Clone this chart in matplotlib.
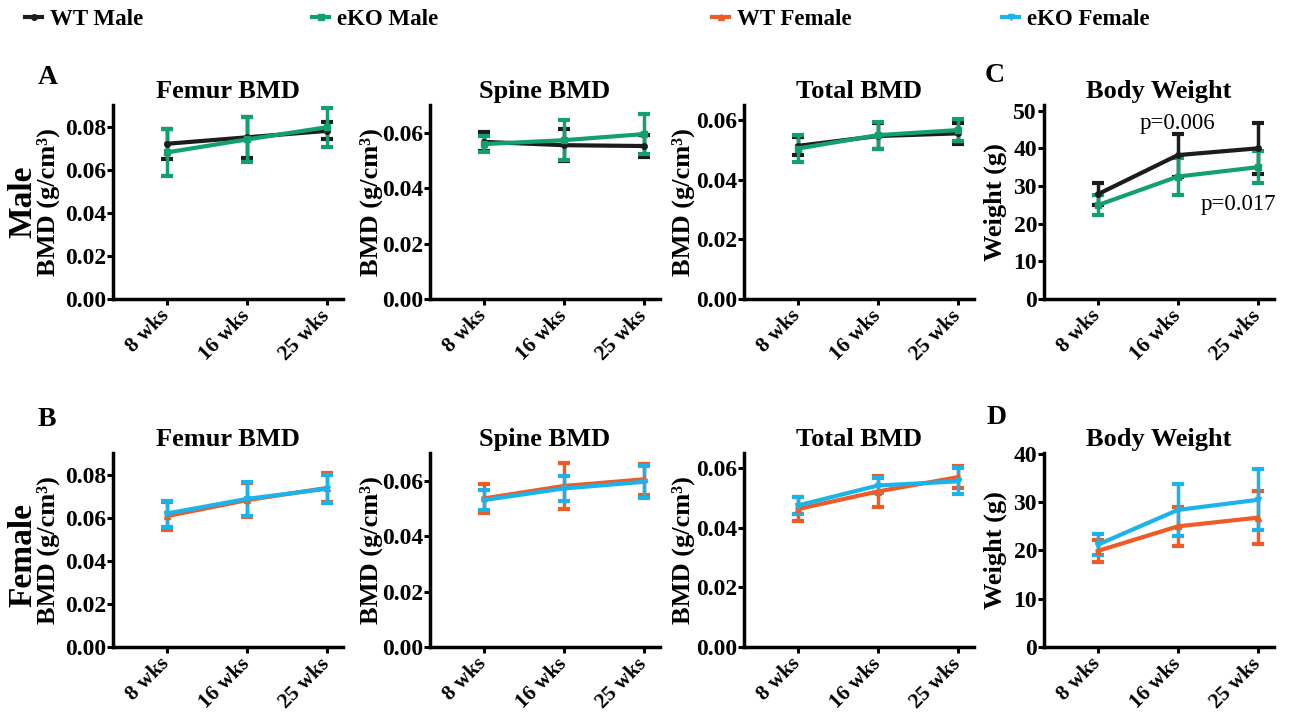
import matplotlib
matplotlib.use("Agg")
import matplotlib.pyplot as plt
from matplotlib.ticker import FormatStrFormatter
from matplotlib.transforms import ScaledTranslation

plt.rcParams['font.family'] = ['Liberation Serif', 'DejaVu Serif']
plt.rcParams['font.weight'] = 'bold'

weeks = ["8 wks", "16 wks", "25 wks"]

# male
wt_m_femur = [0.072, 0.075, 0.078]
wt_m_femur_err = [0.007, 0.0095, 0.004]
ko_m_femur = [0.068, 0.074, 0.0797]
ko_m_femur_err = [0.011, 0.0104, 0.009]
wt_m_spine = [0.0567, 0.0555, 0.0552]
wt_m_spine_err = [0.0034, 0.0057, 0.004]
ko_m_spine = [0.0559, 0.0573, 0.0595]
ko_m_spine_err = [0.003, 0.0073, 0.0072]
wt_m_total = [0.0513, 0.0546, 0.0555]
wt_m_total_err = [0.003, 0.0044, 0.0034]
ko_m_total = [0.0504, 0.0549, 0.0566]
ko_m_total_err = [0.0045, 0.0045, 0.0036]
wt_m_weight = [27.8, 38.2, 40.0]
wt_m_weight_err = [2.9, 5.7, 6.7]
ko_m_weight = [24.9, 32.5, 35.0]
ko_m_weight_err = [2.6, 4.9, 4.2]

# female
wt_f_femur = [0.0607, 0.0681, 0.0738]
wt_f_femur_err = [0.0065, 0.008, 0.0067]
ko_f_femur = [0.0619, 0.0687, 0.0734]
ko_f_femur_err = [0.006, 0.008, 0.0065]
wt_f_spine = [0.0536, 0.0581, 0.0605]
wt_f_spine_err = [0.0051, 0.0083, 0.0055]
ko_f_spine = [0.053, 0.0572, 0.0596]
ko_f_spine_err = [0.0037, 0.0044, 0.0058]
wt_f_total = [0.0462, 0.0521, 0.0569]
wt_f_total_err = [0.004, 0.0052, 0.0036]
ko_f_total = [0.0474, 0.0541, 0.0555]
ko_f_total_err = [0.003, 0.0024, 0.0044]
wt_f_weight = [19.9, 25.0, 26.8]
wt_f_weight_err = [2.2, 4.0, 5.5]
ko_f_weight = [21.2, 28.4, 30.5]
ko_f_weight_err = [2.2, 5.3, 6.3]

c_wt_m = "#1c1c1c"
c_ko_m = "#12a06e"
c_wt_f = "#ef5b25"
c_ko_f = "#1ab4ea"

W, H = 1292, 715
fig = plt.figure(figsize=(W / 100, H / 100), dpi=100)

col_left = [113, 430, 744, 1044]
ax_w = 230
row_top = [105, 453]
ax_h = 194


def make_ax(col, row):
    l = col_left[col] / W
    b = 1 - (row_top[row] + ax_h) / H
    return fig.add_axes([l, b, ax_w / W, ax_h / H])


def series(ax, vals, errs, color, marker, label):
    x = list(range(len(weeks)))
    cont = ax.errorbar(x, vals, yerr=errs, color=color, lw=3, marker=marker, ms=4,
                       capsize=4, capthick=3, elinewidth=2.5, label=label, clip_on=False)
    return cont


def style(ax, title, ylim, ticks, fmt, ylabel, lab_x):
    ax.set_xlim(-0.67, 2.2)
    ax.set_ylim(*ylim)
    ax.set_yticks(ticks)
    ax.yaxis.set_major_formatter(FormatStrFormatter(fmt))
    ax.set_xticks(range(len(weeks)))
    ax.set_xticklabels(weeks, rotation=45, ha='right', va='center', rotation_mode='anchor')
    shift = ScaledTranslation(0.06, 0, fig.dpi_scale_trans)
    for lab in ax.get_xticklabels():
        lab.set_transform(lab.get_transform() + shift)
    for s in ['top', 'right']:
        ax.spines[s].set_visible(False)
    for s in ['left', 'bottom']:
        ax.spines[s].set_linewidth(2.5)
    ax.tick_params(axis='both', length=4, width=2.2, labelsize=17, pad=1)
    ax.tick_params(axis='x', labelsize=15.5, pad=6)
    ax.set_title(title, fontsize=19, fontweight='bold', pad=5)
    ax.set_ylabel(ylabel, fontsize=19, fontweight='bold')
    ax.yaxis.set_label_coords(lab_x, 0.5)


bmd_label = "BMD (g/cm³)"

# male row
ax = make_ax(0, 0)
h1 = series(ax, wt_m_femur, wt_m_femur_err, c_wt_m, 'o', "WT Male")
h2 = series(ax, ko_m_femur, ko_m_femur_err, c_ko_m, 's', "eKO Male")
style(ax, "Femur BMD", (0, 0.09), [0, 0.02, 0.04, 0.06, 0.08], '%.2f', bmd_label, -0.23)

ax = make_ax(1, 0)
series(ax, wt_m_spine, wt_m_spine_err, c_wt_m, 'o', "WT Male")
series(ax, ko_m_spine, ko_m_spine_err, c_ko_m, 's', "eKO Male")
style(ax, "Spine BMD", (0, 0.07), [0, 0.02, 0.04, 0.06], '%.2f', bmd_label, -0.204)

ax = make_ax(2, 0)
series(ax, wt_m_total, wt_m_total_err, c_wt_m, 'o', "WT Male")
series(ax, ko_m_total, ko_m_total_err, c_ko_m, 's', "eKO Male")
style(ax, "Total BMD", (0, 0.065), [0, 0.02, 0.04, 0.06], '%.2f', bmd_label, -0.213)

ax = make_ax(3, 0)
series(ax, wt_m_weight, wt_m_weight_err, c_wt_m, 'o', "WT Male")
series(ax, ko_m_weight, ko_m_weight_err, c_ko_m, 's', "eKO Male")
style(ax, "Body Weight", (0, 51.5), [0, 10, 20, 30, 40, 50], '%d', "Weight (g)", -0.16)
ax.text(1, 46.5, "p=0.006", fontsize=16.5, fontweight='normal', ha='center', va='center')
ax.text(1.75, 25.2, "p=0.017", fontsize=16.5, fontweight='normal', ha='center', va='center')

# female row
ax = make_ax(0, 1)
h3 = series(ax, wt_f_femur, wt_f_femur_err, c_wt_f, '^', "WT Female")
h4 = series(ax, ko_f_femur, ko_f_femur_err, c_ko_f, 'v', "eKO Female")
style(ax, "Femur BMD", (0, 0.09), [0, 0.02, 0.04, 0.06, 0.08], '%.2f', bmd_label, -0.23)

ax = make_ax(1, 1)
series(ax, wt_f_spine, wt_f_spine_err, c_wt_f, '^', "WT Female")
series(ax, ko_f_spine, ko_f_spine_err, c_ko_f, 'v', "eKO Female")
style(ax, "Spine BMD", (0, 0.07), [0, 0.02, 0.04, 0.06], '%.2f', bmd_label, -0.204)

ax = make_ax(2, 1)
series(ax, wt_f_total, wt_f_total_err, c_wt_f, '^', "WT Female")
series(ax, ko_f_total, ko_f_total_err, c_ko_f, 'v', "eKO Female")
style(ax, "Total BMD", (0, 0.065), [0, 0.02, 0.04, 0.06], '%.2f', bmd_label, -0.213)

ax = make_ax(3, 1)
series(ax, wt_f_weight, wt_f_weight_err, c_wt_f, '^', "WT Female")
series(ax, ko_f_weight, ko_f_weight_err, c_ko_f, 'v', "eKO Female")
style(ax, "Body Weight", (0, 40.2), [0, 10, 20, 30, 40], '%d', "Weight (g)", -0.16)

# row labels
fig.text(23 / W, 1 - 202 / H, "Male", rotation=90, fontsize=24, fontweight='bold', ha='center', va='center')
fig.text(23 / W, 1 - 555 / H, "Female", rotation=90, fontsize=24, fontweight='bold', ha='center', va='center')

# panel letters
for letter, px, py in [("A", 38, 65), ("B", 38, 407), ("C", 985, 63), ("D", 987, 405)]:
    fig.text(px / W, 1 - py / H, letter, fontsize=20, fontweight='bold', ha='left', va='top')

# legend entries across the top
for handle, px in [(h1, 25), (h2, 312), (h3, 712), (h4, 1002)]:
    line = handle.lines[0]
    fig.legend([line], [handle.get_label()], loc='center left', bbox_to_anchor=(px / W, 1 - 19 / H),
               frameon=False, handlelength=0.75, handletextpad=0.35,
               borderpad=0, borderaxespad=0, prop={'weight': 'bold', 'size': 16.5})

fig.savefig("out.png", dpi=100)
